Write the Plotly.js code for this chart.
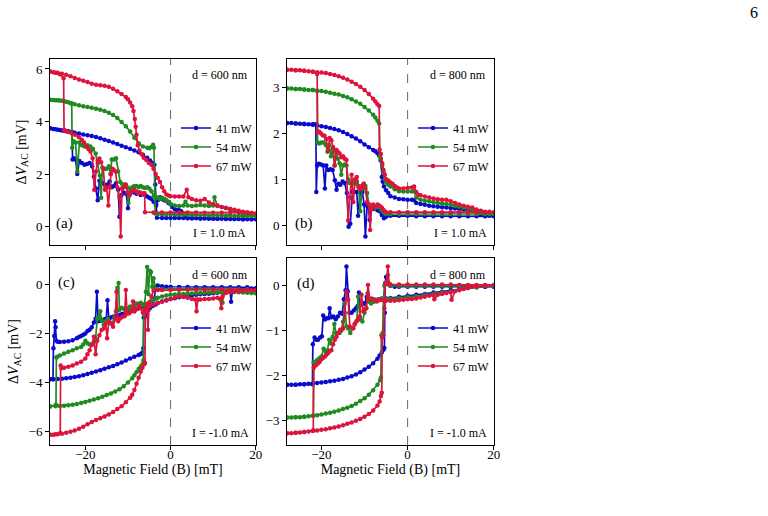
<!DOCTYPE html>
<html>
<head>
<meta charset="utf-8">
<script src="https://cdn.plot.ly/plotly-3.0.1.min.js"></script>
<style>html,body{margin:0;padding:0;background:#fff;}#plot{width:768px;height:516px;}</style>
</head>
<body>
<div id="plot"></div>
<script>
// ---------- DATA : [B (mT), dV_AC (mV)] ----------
const seriesNames = ['41 mW', '54 mW', '67 mW'];
const panelLabels = ['(a)', '(b)', '(c)', '(d)'];
const thickness = ['d = 600 nm', 'd = 800 nm', 'd = 600 nm', 'd = 800 nm'];
const currents = ['I = 1.0 mA', 'I = 1.0 mA', 'I = -1.0 mA', 'I = -1.0 mA'];
const xTicks = [-20, 0, 20];
const yTicksA = [0, 2, 4, 6];
const yTicksB = [0, 1, 2, 3];
const yTicksC = [-6, -4, -2, 0];
const yTicksD = [-3, -2, -1, 0];

// panel (a): d = 600 nm, I = 1.0 mA
const a41 = [[-28.3,3.74],[-27.5,3.72],[-26.5,3.69],[-25.5,3.66],[-24.5,3.63],[-23.5,3.60],[-22.5,3.57],[-21.5,3.54],[-20.5,3.51],[-19.5,3.48],[-18.5,3.45],[-17.5,3.41],[-16.5,3.36],[-15.5,3.31],[-14.5,3.26],[-13.5,3.20],[-12.5,3.14],[-11.5,3.08],[-10.5,3.02],[-9.5,2.96],[-8.5,2.90],[-7.5,2.83],[-6.5,2.74],[-5.5,2.62],[-4.8,2.52],[-4.2,2.42],[-3.8,2.35],[-3.6,1.6],[-3.4,0.8],[-3.2,0.34],[-2,0.33],[-1,0.33],[0,0.33],[1,0.33],[2,0.33],[3,0.33],[4,0.32],[5,0.32],[6,0.32],[7,0.31],[8,0.31],[9,0.31],[10,0.3],[11,0.3],[12,0.3],[13,0.3],[14,0.29],[15,0.29],[16,0.29],[17,0.28],[18,0.28],[19,0.28],[20,0.28],
  [19,0.28],[17,0.28],[15,0.29],[13,0.29],[11,0.3],[9,0.31],[7,0.31],[5,0.32],[4,0.33],[3.5,0.38],[3,0.5],[2.5,0.58],[2,0.62],[1.5,0.63],[1,0.66],[0.5,0.75],[0,0.85],[-0.5,0.9],[-1,0.98],[-1.5,1.0],[-2,1.05],[-2.5,1.12],[-3,1.0],[-3.4,0.85],[-4,0.95],[-4.5,1.05],[-5,1.1],[-5.5,1.15],[-6,1.2],[-6.5,1.25],[-7,1.2],[-7.5,1.3],[-8,1.25],[-8.5,1.3],[-9,1.35],[-9.5,1.25],[-10,0.7],[-10.4,1.25],[-11,1.3],[-11.5,1.2],[-12,0.38],[-12.3,1.4],[-12.8,1.65],[-13.3,1.55],[-13.8,1.5],[-14.3,1.72],[-14.8,1.6],[-15.3,1.55],[-15.8,1.65],[-16.3,1.7],[-16.7,1.75],[-17.1,1.0],[-17.5,1.45],[-18,1.9],[-18.4,2.3],[-19,2.42],[-19.6,2.38],[-20.2,2.35],[-20.8,2.42],[-21.4,2.5],[-21.9,2.0],[-22.3,2.55],[-22.7,2.6],[-23.0,2.55],[-23.1,3.6],[-24,3.63],[-25,3.65],[-26,3.68],[-27,3.71],[-28.3,3.74]];
const a54 = [[-28.3,4.83],[-27.5,4.82],[-26.5,4.81],[-25.5,4.79],[-24.5,4.75],[-23.5,4.70],[-22.5,4.66],[-21.5,4.62],[-20.5,4.58],[-19.5,4.55],[-18.5,4.52],[-17.5,4.49],[-16.5,4.45],[-15.5,4.40],[-14.5,4.33],[-13.5,4.25],[-12.5,4.13],[-11.5,3.98],[-10.5,3.82],[-9.5,3.62],[-8.5,3.38],[-7.5,3.17],[-6.5,3.05],[-5.5,3.0],[-5,2.98],[-4.5,3.03],[-4.1,3.12],[-3.9,3.0],[-3.8,1.2],[-3.6,0.5],[-3,0.47],[-2,0.47],[-1,0.46],[0,0.46],[1,0.46],[2,0.46],[3,0.45],[4,0.45],[5,0.45],[6,0.44],[7,0.44],[8,0.44],[9,0.43],[10,0.43],[11,0.43],[12,0.42],[13,0.42],[14,0.42],[15,0.41],[16,0.41],[17,0.41],[18,0.4],[19,0.4],[20,0.4],
  [19,0.42],[18,0.45],[17,0.5],[16,0.55],[15,0.6],[14,0.65],[13,0.7],[12,0.75],[11,0.78],[10.3,1.12],[10,0.8],[9,0.78],[8,0.8],[7,0.82],[6,0.8],[5,0.78],[4,0.8],[3.5,0.95],[3,0.8],[2,0.78],[1,0.8],[0,0.85],[-0.5,0.95],[-1,1.0],[-1.5,1.05],[-2,1.1],[-2.5,1.05],[-3,1.1],[-3.5,1.12],[-4,1.15],[-4.5,1.35],[-5,1.45],[-5.5,1.5],[-6,1.47],[-6.5,1.5],[-7,1.55],[-7.5,1.5],[-8,1.55],[-8.5,1.55],[-9,1.5],[-9.5,1.45],[-9.9,0.9],[-10.2,1.5],[-10.8,1.6],[-11.3,1.6],[-11.8,1.7],[-12.3,2.1],[-12.8,2.6],[-13.3,2.55],[-13.8,2.55],[-14.1,2.0],[-14.5,2.3],[-15,2.2],[-15.5,2.2],[-16,2.25],[-16.3,1.1],[-16.6,1.95],[-17.1,2.4],[-17.6,2.78],[-18.2,2.95],[-18.8,3.05],[-19.5,3.1],[-20.2,3.05],[-20.8,3.1],[-21.4,3.2],[-21.9,2.1],[-22.3,3.2],[-22.8,3.25],[-23.1,3.0],[-23.2,4.7],[-24,4.73],[-25,4.77],[-26,4.8],[-27,4.81],[-28.3,4.83]];
const a67 = [[-28.3,5.9],[-27.5,5.88],[-26.5,5.86],[-25.5,5.82],[-24.5,5.78],[-23.5,5.72],[-22.5,5.66],[-21.5,5.6],[-20.5,5.55],[-19.5,5.5],[-18.5,5.44],[-17.5,5.4],[-16.5,5.38],[-15.5,5.36],[-14.5,5.32],[-13.5,5.25],[-12.5,5.15],[-11.5,5.05],[-10.5,4.93],[-10,4.85],[-9.5,4.72],[-9,4.58],[-8.7,4.4],[-8.4,4.1],[-8.2,3.8],[-8.0,3.5],[-7.7,3.1],[-7.3,2.9],[-6.8,2.75],[-6.3,2.62],[-5.7,2.54],[-5.1,2.42],[-4.5,2.35],[-4,2.2],[-3.5,2.0],[-3,1.85],[-2.5,1.7],[-2,1.5],[-1.5,1.35],[-1,1.22],[-0.5,1.18],[0,1.16],[1,1.15],[2,1.15],[3,1.15],[3.8,1.4],[4.2,1.12],[5,1.05],[6,1.0],[7,0.98],[8,1.05],[9,0.92],[10,0.85],[11,0.8],[12,0.75],[13,0.72],[14,0.68],[15,0.64],[16,0.6],[17,0.57],[18,0.55],[19,0.52],[20,0.5],
  [19,0.52],[18,0.53],[16,0.53],[14,0.53],[12,0.53],[10,0.53],[8,0.53],[6,0.54],[4,0.54],[2,0.54],[0,0.54],[-2,0.54],[-4,0.54],[-6,0.55],[-6.1,1.27],[-6.6,1.25],[-7.1,1.3],[-7.6,1.27],[-8.1,1.35],[-8.6,1.42],[-9.1,1.35],[-9.6,1.2],[-10.1,1.3],[-10.5,1.6],[-11,1.5],[-11.4,1.45],[-11.7,-0.38],[-12.0,1.14],[-12.5,1.5],[-12.9,2.1],[-13.3,2.15],[-13.6,2.2],[-14.0,2.0],[-14.3,1.5],[-14.6,0.8],[-15.0,1.5],[-15.4,1.4],[-15.8,2.2],[-16.3,2.45],[-16.7,2.59],[-17.1,2.5],[-17.5,2.1],[-17.9,1.4],[-18.3,2.6],[-18.8,2.86],[-19.3,2.95],[-19.8,3.05],[-20.3,3.2],[-20.8,3.3],[-21.5,3.4],[-22.4,3.5],[-23.2,3.55],[-24,3.6],[-24.6,3.65],[-25.0,3.67],[-25.1,5.65],[-26,5.8],[-27,5.86],[-28.3,5.9]];

// panel (b): d = 800 nm, I = 1.0 mA
const b41 = [[-28,2.23],[-27,2.23],[-26,2.22],[-25,2.21],[-24,2.2],[-23,2.2],[-22,2.19],[-21,2.18],[-20,2.16],[-19,2.14],[-18,2.12],[-17,2.1],[-16,2.07],[-15,2.03],[-14,1.99],[-13,1.94],[-12,1.89],[-11,1.83],[-10,1.76],[-9,1.7],[-8,1.64],[-7.5,1.61],[-7,1.57],[-6.6,1.52],[-6.3,1.42],[-6.0,1.05],[-5.8,0.95],[-5.5,0.84],[-5,0.76],[-4.5,0.7],[-4,0.63],[-3,0.6],[-2,0.57],[-1,0.56],[0,0.55],[1,0.55],[1.5,0.54],[2,0.48],[3,0.46],[4,0.44],[5,0.42],[6,0.41],[7,0.4],[8,0.39],[9,0.38],[10,0.37],[11,0.36],[12,0.35],[13,0.34],[14,0.33],[15,0.3],[16,0.27],[17,0.24],[18,0.22],[19,0.2],[20,0.19],
  [18,0.19],[16,0.19],[14,0.19],[12,0.19],[10,0.19],[8,0.19],[6,0.19],[4,0.19],[2,0.19],[0,0.2],[-2,0.2],[-4,0.2],[-5,0.18],[-5.5,0.15],[-6,0.22],[-6.5,0.3],[-7,0.32],[-7.5,0.38],[-8,0.35],[-8.5,0.39],[-8.8,0.11],[-9.1,0.4],[-9.4,0.42],[-9.8,-0.25],[-10.1,0.45],[-10.5,0.72],[-11,0.72],[-11.5,0.2],[-11.8,0.72],[-12.3,0.72],[-12.8,0.73],[-13.3,0.03],[-13.7,-0.04],[-14.1,0.7],[-14.6,0.92],[-15.1,0.95],[-15.6,0.88],[-16.1,0.9],[-16.5,0.77],[-16.9,0.98],[-17.4,1.2],[-17.9,1.22],[-18.4,1.2],[-18.9,1.3],[-19.2,0.8],[-19.6,1.3],[-20.1,1.32],[-20.6,1.34],[-21.0,1.3],[-21.2,0.72],[-21.3,2.2],[-22,2.2],[-24,2.21],[-26,2.22],[-28,2.23]];
const b54 = [[-28,2.98],[-27,2.98],[-26,2.97],[-25,2.97],[-24,2.96],[-23,2.95],[-22,2.95],[-21,2.94],[-20,2.93],[-19,2.91],[-18,2.89],[-17,2.87],[-16,2.85],[-15,2.82],[-14,2.79],[-13,2.75],[-12,2.7],[-11,2.65],[-10,2.58],[-9,2.5],[-8,2.41],[-7.5,2.35],[-7,2.28],[-6.6,2.22],[-6.5,1.5],[-6.2,1.45],[-5.9,1.3],[-5.6,1.15],[-5.3,1.0],[-5,0.93],[-4.5,0.88],[-4,0.84],[-3,0.78],[-2,0.74],[-1,0.73],[0,0.73],[1,0.73],[1.5,0.74],[2,0.6],[3,0.55],[4,0.53],[5,0.52],[6,0.5],[7,0.48],[8,0.47],[9,0.46],[10,0.44],[11,0.42],[12,0.4],[13,0.38],[14,0.37],[15,0.33],[16,0.3],[17,0.27],[18,0.25],[19,0.24],[20,0.24],
  [18,0.24],[16,0.24],[14,0.24],[12,0.24],[10,0.24],[8,0.24],[6,0.24],[4,0.24],[2,0.24],[0,0.24],[-2,0.24],[-4,0.24],[-5,0.24],[-5.5,0.28],[-6,0.32],[-6.5,0.38],[-7,0.4],[-7.5,0.38],[-8,0.42],[-8.5,0.4],[-9,0.45],[-9.4,0.7],[-9.8,0.85],[-10.2,0.9],[-10.6,0.8],[-11,0.3],[-11.4,0.85],[-11.8,0.95],[-12.2,0.9],[-12.6,0.98],[-13,0.9],[-13.4,0.92],[-13.8,1.0],[-14.2,1.3],[-14.6,1.32],[-15,1.3],[-15.4,1.1],[-15.8,1.35],[-16.2,1.45],[-16.6,1.6],[-17,1.3],[-17.4,1.65],[-17.8,1.5],[-18.2,1.75],[-18.6,1.6],[-19,1.75],[-19.5,1.8],[-20,1.8],[-20.5,1.78],[-20.9,1.8],[-21.0,2.93],[-22,2.95],[-24,2.96],[-26,2.97],[-28,2.98]];
const b67 = [[-28,3.39],[-27,3.39],[-26,3.38],[-25,3.38],[-24,3.37],[-23,3.36],[-22,3.35],[-21,3.34],[-20,3.33],[-19,3.32],[-18,3.3],[-17,3.28],[-16,3.25],[-15,3.22],[-14,3.18],[-13,3.13],[-12,3.08],[-11,3.02],[-10,2.95],[-9,2.86],[-8,2.76],[-7.5,2.7],[-7,2.64],[-6.6,2.6],[-6.5,1.65],[-6.2,1.55],[-5.9,1.35],[-5.6,1.2],[-5.3,1.1],[-5,1.0],[-4.5,0.97],[-4,0.93],[-3.5,0.9],[-3,0.85],[-2.5,0.82],[-2,0.8],[-1,0.8],[0,0.81],[1,0.82],[1.5,0.84],[2,0.72],[2.5,0.66],[3,0.65],[4,0.62],[5,0.6],[6,0.58],[7,0.56],[8,0.55],[9,0.55],[10,0.52],[11,0.48],[12,0.45],[13,0.42],[14,0.4],[15,0.38],[16,0.34],[17,0.31],[18,0.29],[19,0.29],[20,0.28],
  [18,0.28],[16,0.28],[14,0.28],[12,0.28],[10,0.28],[8,0.28],[6,0.28],[4,0.28],[2,0.28],[0,0.28],[-2,0.28],[-4,0.28],[-5,0.28],[-5.5,0.32],[-6,0.38],[-6.5,0.42],[-7,0.45],[-7.5,0.4],[-8,0.45],[-8.4,0.35],[-8.7,-0.11],[-9.0,0.45],[-9.4,0.5],[-9.8,0.8],[-10.2,0.9],[-10.6,0.85],[-11,0.78],[-11.4,0.82],[-11.8,1.05],[-12.2,1.0],[-12.6,0.5],[-13,1.1],[-13.4,0.6],[-13.8,0.1],[-14.2,1.42],[-14.6,1.45],[-15,1.5],[-15.4,1.48],[-15.8,1.56],[-16.2,1.6],[-16.5,1.64],[-16.9,1.3],[-17.3,1.7],[-17.7,1.85],[-18.1,1.9],[-18.5,1.62],[-18.9,1.88],[-19.3,1.95],[-19.7,1.96],[-20.1,2.0],[-20.5,2.04],[-20.9,2.03],[-21.0,3.3],[-22,3.35],[-24,3.37],[-26,3.38],[-28,3.39]];

// panel (c): d = 600 nm, I = -1.0 mA
const c41 = [[-28.3,-3.86],[-27.5,-3.86],[-26.5,-3.85],[-25.5,-3.84],[-24.5,-3.82],[-23.5,-3.8],[-22.5,-3.77],[-21.5,-3.74],[-20.5,-3.7],[-19.5,-3.65],[-18.5,-3.6],[-17.5,-3.55],[-16.5,-3.5],[-15.5,-3.44],[-14.5,-3.38],[-13.5,-3.32],[-12.5,-3.25],[-11.5,-3.18],[-10.5,-3.1],[-9.5,-3.02],[-8.5,-2.95],[-7.5,-2.88],[-7,-2.84],[-6.6,-2.78],[-6.4,-2.6],[-6.3,-1.35],[-6.0,-1.32],[-5.6,-1.2],[-5.2,-1.05],[-4.8,-0.95],[-4.2,-0.88],[-3.5,-0.82],[-3,-0.76],[-2,-0.7],[-1,-0.65],[0,-0.6],[1,-0.57],[2,-0.53],[3,-0.5],[4,-0.47],[5,-0.45],[6,-0.43],[7,-0.41],[8,-0.4],[9,-0.38],[10,-0.36],[11,-0.34],[12,-0.32],[13,-0.3],[14,-0.3],[14.2,-0.71],[14.5,-0.28],[15,-0.25],[16,-0.22],[17,-0.2],[18,-0.18],[19,-0.17],[20,-0.16],
  [18,-0.12],[16,-0.12],[14,-0.12],[12,-0.12],[10,-0.12],[8,-0.12],[6,-0.12],[4,-0.11],[2,-0.11],[0,-0.1],[-1,-0.1],[-2,-0.08],[-3,-0.05],[-3.5,-0.1],[-3.8,-0.6],[-4.3,-0.7],[-5,-0.75],[-5.5,-0.8],[-6,-0.85],[-6.5,-0.9],[-7,-0.95],[-7.5,-0.98],[-8,-1.02],[-8.5,-1.05],[-9,-1.08],[-9.5,-1.1],[-10,-1.12],[-10.5,-1.15],[-11,-1.2],[-11.5,-1.22],[-12,-1.25],[-12.5,-1.28],[-13,-1.3],[-13.5,-1.32],[-14,-1.35],[-14.5,-1.38],[-14.8,-0.65],[-15.1,-1.4],[-15.5,-1.42],[-16,-1.45],[-16.5,-1.48],[-17,-1.5],[-17.3,-0.3],[-17.6,-1.4],[-18,-1.55],[-18.5,-1.75],[-19,-1.85],[-19.5,-1.9],[-20,-2.0],[-20.5,-2.05],[-21,-2.1],[-21.5,-2.15],[-22,-2.2],[-23,-2.28],[-24,-2.32],[-25,-2.34],[-26,-2.35],[-26.5,-2.34],[-26.8,-2.3],[-27.0,-1.75],[-27.1,-1.5],[-27.3,-2.1],[-27.5,-2.6],[-27.6,-3.86],[-28.3,-3.86]];
const c54 = [[-28.3,-4.97],[-27,-4.96],[-26,-4.95],[-25,-4.94],[-24,-4.92],[-23,-4.9],[-22,-4.87],[-21,-4.83],[-20,-4.79],[-19,-4.74],[-18,-4.69],[-17,-4.64],[-16,-4.58],[-15,-4.51],[-14,-4.44],[-13,-4.36],[-12,-4.27],[-11,-4.15],[-10,-4.0],[-9,-3.82],[-8.5,-3.7],[-8,-3.58],[-7.5,-3.45],[-7,-3.35],[-6.6,-3.25],[-6.4,-3.1],[-6.3,-1.2],[-6,-1.05],[-5.6,-0.92],[-5.2,-0.82],[-4.8,-0.72],[-4.2,-0.65],[-3.5,-0.58],[-3,-0.55],[-2,-0.5],[-1,-0.46],[0,-0.43],[1,-0.42],[2,-0.4],[3,-0.39],[4,-0.38],[5,-0.37],[6,-0.36],[7,-0.35],[8,-0.34],[9,-0.33],[10,-0.32],[11,-0.32],[12,-0.31],[12.2,-0.75],[12.5,-0.31],[13,-0.3],[14,-0.3],[15,-0.31],[16,-0.32],[17,-0.33],[18,-0.34],[19,-0.35],[20,-0.36],
  [18,-0.2],[16,-0.2],[14,-0.2],[12,-0.2],[10,-0.2],[8,-0.2],[6,-0.2],[4,-0.2],[2,-0.2],[0,-0.2],[-2,-0.2],[-3,-0.2],[-3.5,-0.18],[-4,0.25],[-4.3,-0.1],[-4.6,0.5],[-4.9,0.55],[-5.2,-0.4],[-5.5,0.7],[-5.8,-0.3],[-6.1,-0.8],[-6.6,-0.85],[-7,-0.75],[-7.5,-0.8],[-8,-0.78],[-8.5,-0.85],[-9,-0.95],[-9.5,-0.9],[-10,-1.0],[-10.5,-1.05],[-11,-1.0],[-11.5,-0.95],[-12,-1.05],[-12.2,0.05],[-12.5,-0.15],[-12.8,-1.1],[-13.2,-1.35],[-13.7,-1.6],[-14.2,-1.55],[-14.7,-1.4],[-15.2,-1.5],[-15.7,-1.65],[-16.2,-1.45],[-16.5,-1.1],[-16.8,-1.35],[-17.2,-1.4],[-17.6,-2.2],[-18,-2.35],[-18.5,-2.45],[-19,-2.45],[-19.5,-2.4],[-20,-2.3],[-20.5,-2.45],[-21,-2.55],[-22,-2.6],[-23,-2.68],[-24,-2.75],[-25,-2.82],[-26,-2.9],[-26.6,-2.95],[-26.8,-2.98],[-26.9,-4.9],[-28.3,-4.97]];
const c67 = [[-28.3,-6.12],[-27.5,-6.12],[-26.5,-6.1],[-25.5,-6.08],[-24.5,-6.04],[-23.5,-6.0],[-22.5,-5.95],[-21.5,-5.88],[-20.5,-5.8],[-19.5,-5.7],[-18.5,-5.6],[-17.5,-5.52],[-16.5,-5.45],[-15.5,-5.38],[-14.5,-5.3],[-13.5,-5.2],[-12.5,-5.08],[-11.5,-4.96],[-10.5,-4.8],[-9.5,-4.62],[-9,-4.5],[-8.5,-4.3],[-8,-4.05],[-7.5,-3.8],[-7,-3.55],[-6.6,-3.4],[-6.2,-3.25],[-6.0,-3.2],[-5.9,-1.05],[-5.6,-0.98],[-5.2,-0.92],[-4.8,-0.88],[-4,-0.82],[-3,-0.75],[-2,-0.7],[-1,-0.66],[0,-0.6],[1,-0.55],[2,-0.5],[3,-0.52],[4,-0.55],[5,-0.6],[5.8,-0.62],[6.1,-1.1],[6.4,-0.62],[7,-0.62],[8,-0.6],[9,-0.6],[10,-0.58],[11,-0.55],[11.6,-0.6],[11.9,-0.98],[12.2,-0.5],[13,-0.35],[14,-0.32],[15,-0.3],[16,-0.28],[17,-0.27],[18,-0.25],[19,-0.24],[20,-0.23],
  [18,-0.22],[16,-0.22],[14,-0.22],[12,-0.22],[10,-0.22],[8,-0.22],[6,-0.22],[4,-0.22],[2,-0.22],[0,-0.22],[-2,-0.23],[-3,-0.23],[-4,-0.25],[-4.5,-0.5],[-5,-0.75],[-5.3,-1.85],[-5.5,-0.8],[-6,-1.1],[-6.5,-1.15],[-7,-0.98],[-7.5,-0.85],[-8,-1.0],[-8.5,-1.11],[-8.8,-0.7],[-9.2,-1.1],[-9.7,-1.18],[-10.2,-1.2],[-10.5,-0.23],[-10.8,-1.3],[-11.3,-1.32],[-11.8,-1.39],[-12.3,-1.5],[-12.7,-0.3],[-13.0,-1.4],[-13.5,-1.73],[-14,-1.6],[-14.5,-1.52],[-14.9,-2.2],[-15.2,-1.6],[-15.7,-1.8],[-16.2,-1.86],[-16.7,-2.07],[-17.2,-2.3],[-17.6,-2.85],[-18,-2.13],[-18.5,-2.47],[-19,-2.68],[-19.5,-2.85],[-20,-3.02],[-21,-3.15],[-22,-3.22],[-23,-3.3],[-24,-3.36],[-25,-3.4],[-25.6,-3.42],[-25.8,-3.3],[-25.9,-6.05],[-27,-6.1],[-28.3,-6.12]];

// panel (d): d = 800 nm, I = -1.0 mA
const d41 = [[-28,-2.2],[-27,-2.2],[-26,-2.2],[-25,-2.19],[-24,-2.19],[-23,-2.18],[-22,-2.17],[-21,-2.16],[-20,-2.15],[-19,-2.14],[-18,-2.12],[-17,-2.11],[-16,-2.09],[-15,-2.07],[-14,-2.04],[-13,-2.01],[-12,-1.97],[-11,-1.92],[-10,-1.86],[-9,-1.8],[-8,-1.72],[-7,-1.62],[-6.5,-1.55],[-6,-1.48],[-5.6,-1.42],[-5.4,-1.38],[-5.3,-0.6],[-5.2,0.06],[-5.0,0.2],[-4.8,0.05],[-4,0.0],[-3,-0.02],[-2,-0.02],[0,-0.02],[2,-0.02],[4,-0.02],[6,-0.02],[8,-0.02],[10,-0.02],[12,-0.02],[14,-0.02],[16,-0.02],[18,-0.02],[20,-0.02],
  [18,-0.02],[16,-0.03],[14,-0.05],[12,-0.08],[10,-0.1],[8,-0.13],[6,-0.15],[4,-0.18],[2,-0.2],[0,-0.22],[-2,-0.24],[-4,-0.27],[-5,-0.28],[-6,-0.28],[-6.5,-0.3],[-7,-0.31],[-7.5,-0.32],[-8,-0.33],[-8.5,-0.3],[-9,-0.34],[-9.5,-0.25],[-10,-0.4],[-10.5,-0.38],[-11,-0.42],[-11.3,-0.15],[-11.6,-0.45],[-12,-0.5],[-12.5,-0.55],[-13,-0.6],[-13.5,-0.6],[-13.9,-0.12],[-14.2,0.43],[-14.4,-0.1],[-14.8,-0.3],[-15.2,-0.62],[-15.7,-0.6],[-16.2,-0.68],[-16.7,-0.74],[-17.2,-0.68],[-17.7,-0.7],[-18.1,-0.5],[-18.4,-0.72],[-18.8,-0.72],[-19.2,-0.75],[-19.6,-0.66],[-19.9,-1.12],[-20.3,-1.15],[-20.8,-1.2],[-21.2,-1.2],[-21.6,-1.15],[-22,-1.3],[-22.1,-2.19],[-24,-2.19],[-26,-2.2],[-28,-2.2]];
const d54 = [[-28,-2.93],[-27,-2.93],[-26,-2.92],[-25,-2.92],[-24,-2.91],[-23,-2.9],[-22,-2.89],[-21,-2.88],[-20,-2.86],[-19,-2.84],[-18,-2.82],[-17,-2.8],[-16,-2.77],[-15,-2.74],[-14,-2.71],[-13,-2.67],[-12,-2.62],[-11,-2.56],[-10,-2.5],[-9,-2.42],[-8,-2.32],[-7,-2.2],[-6.4,-2.1],[-6.2,-2.04],[-6.1,-1.1],[-5.8,-1.05],[-5.6,-0.3],[-5.4,0.0],[-5.0,0.05],[-4.6,0.24],[-4.3,0.02],[-4,0.0],[-2,0.0],[0,0.0],[2,0.0],[4,0.0],[6,0.0],[8,0.0],[10,0.0],[12,0.0],[14,0.0],[16,0.0],[18,0.0],[20,0.0],
  [18,-0.01],[16,-0.03],[14,-0.05],[12,-0.08],[10,-0.12],[8,-0.15],[6,-0.18],[4,-0.2],[2,-0.23],[0,-0.25],[-2,-0.27],[-4,-0.28],[-5,-0.29],[-6,-0.3],[-6.5,-0.3],[-7,-0.31],[-7.5,-0.33],[-8,-0.36],[-8.5,-0.39],[-9,-0.35],[-9.3,-0.17],[-9.6,-0.5],[-10,-0.6],[-10.5,-0.79],[-11,-0.75],[-11.5,-0.24],[-11.8,-0.78],[-12.3,-0.85],[-12.8,-0.95],[-13.3,-1.05],[-13.8,-0.95],[-14.2,-0.9],[-14.6,-0.39],[-15,-0.8],[-15.4,-1.0],[-15.8,-1.05],[-16.2,-1.05],[-16.6,-1.05],[-17,-0.85],[-17.4,-1.13],[-17.8,-1.28],[-18.2,-1.2],[-18.6,-1.43],[-19,-1.46],[-19.5,-1.4],[-20,-1.57],[-20.5,-1.61],[-21,-1.65],[-21.5,-1.69],[-21.8,-1.7],[-21.9,-2.89],[-24,-2.91],[-26,-2.92],[-28,-2.93]];
const d67 = [[-28,-3.28],[-27,-3.28],[-26,-3.27],[-25,-3.26],[-24,-3.25],[-23,-3.24],[-22,-3.23],[-21,-3.22],[-20,-3.2],[-19,-3.19],[-18,-3.17],[-17,-3.15],[-16,-3.13],[-15,-3.1],[-14,-3.07],[-13,-3.04],[-12,-3.0],[-11,-2.96],[-10,-2.91],[-9,-2.85],[-8,-2.77],[-7,-2.66],[-6.5,-2.57],[-6.2,-2.45],[-6.0,-2.38],[-5.9,-1.15],[-5.6,-1.1],[-5.4,-0.5],[-5.2,0.05],[-4.9,0.08],[-4.6,0.43],[-4.3,0.05],[-4,0.03],[-2,0.03],[0,0.03],[2,0.03],[4,0.03],[6,0.03],[8,0.03],[10,0.03],[12,0.02],[14,0.02],[16,0.02],[18,0.02],[20,0.02],
  [18,0.0],[16,-0.01],[15,-0.02],[14,-0.04],[13,-0.07],[12,-0.1],[11,-0.12],[10.2,-0.31],[10,-0.14],[9,-0.16],[8,-0.18],[7,-0.2],[6.2,-0.3],[6,-0.21],[5,-0.22],[4,-0.24],[3,-0.26],[2,-0.28],[1,-0.29],[0,-0.3],[-1,-0.31],[-2,-0.32],[-3,-0.33],[-4,-0.33],[-5,-0.33],[-5.7,-0.32],[-6.2,-0.31],[-6.6,-0.32],[-7.2,-0.35],[-7.8,-0.3],[-8.4,-0.28],[-8.8,-0.3],[-9.2,0.02],[-9.6,-0.5],[-10.0,-0.52],[-10.3,-0.57],[-10.7,-0.2],[-11.1,-0.68],[-11.5,-0.74],[-11.9,-0.79],[-12.3,-0.86],[-12.6,-0.94],[-13.0,-0.93],[-13.4,-0.91],[-13.8,-0.31],[-14.2,-0.13],[-14.6,-0.6],[-15,-0.95],[-15.4,-0.97],[-15.7,-0.98],[-16.1,-1.05],[-16.5,-1.13],[-16.9,-1.2],[-17.3,-1.3],[-17.7,-1.43],[-18.1,-1.45],[-18.5,-1.5],[-18.9,-1.53],[-19.2,-1.57],[-19.6,-1.6],[-20,-1.63],[-20.4,-1.69],[-20.8,-1.72],[-21.2,-1.76],[-21.6,-1.79],[-21.8,-1.82],[-21.9,-3.21],[-24,-3.25],[-26,-3.27],[-28,-3.28]];

// ---------- STYLE ----------
const colors = ['#0a0acd', '#1f8a1f', '#dc143c'];
const FONT = "'Liberation Serif', 'Times New Roman', Times, serif";

const panels = [
  {data: [a41, a54, a67], xa: 'x',  ya: 'y',  lg: 'legend'},
  {data: [b41, b54, b67], xa: 'x2', ya: 'y2', lg: 'legend2'},
  {data: [c41, c54, c67], xa: 'x3', ya: 'y3', lg: 'legend3'},
  {data: [d41, d54, d67], xa: 'x4', ya: 'y4', lg: 'legend4'}
];

const traces = [];
panels.forEach(p => {
  p.data.forEach((s, i) => {
    traces.push({
      type: 'scatter', mode: 'lines+markers',
      x: s.map(v => v[0]), y: s.map(v => v[1]),
      name: seriesNames[i], legend: p.lg,
      xaxis: p.xa, yaxis: p.ya,
      line: {color: colors[i], width: 1.7},
      marker: {color: colors[i], size: 4.5},
      hoverinfo: 'skip'
    });
  });
});

const W = 768, H = 516;
const px = v => v / W, py = v => 1 - v / H;

function axis(extra) {
  return Object.assign({
    showline: true, linecolor: '#000', linewidth: 1, mirror: true,
    ticks: 'outside', ticklen: 4, tickwidth: 1, tickcolor: '#000',
    showgrid: false, zeroline: false,
    tickfont: {family: FONT, size: 13, color: '#000'}
  }, extra);
}
const colL = [px(50), px(256)], colR = [px(287), px(494)];
const rowT = [py(245), py(59)], rowB = [py(445), py(258)];

const ytitle = {text: 'Δ<i>V</i><sub>AC</sub> [mV]', font: {family: FONT, size: 14, color: '#000'}, standoff: 6};
const xtitle = {text: 'Magnetic Field (B) [mT]', font: {family: FONT, size: 14, color: '#000'}, standoff: 0};

function legendAt(xp, yp) {
  return {x: px(xp), y: py(yp), xanchor: 'left', yanchor: 'middle',
    bgcolor: 'rgba(0,0,0,0)', borderwidth: 0,
    font: {family: FONT, size: 12, color: '#000'}, itemclick: false, itemdoubleclick: false};
}

const annots = [];
function txt(t, xp, yp, xa, size) {
  annots.push({text: t, x: px(xp), y: py(yp), xref: 'paper', yref: 'paper',
    xanchor: xa, yanchor: 'middle', showarrow: false,
    font: {family: FONT, size: size, color: '#000'}});
}
txt(thickness[0], 250, 75, 'right', 12);
txt(currents[0], 248, 233, 'right', 12);
txt(panelLabels[0], 54, 223, 'left', 15);
txt(thickness[1], 488, 75, 'right', 12);
txt(currents[1], 489, 233, 'right', 12);
txt(panelLabels[1], 293, 223, 'left', 15);
txt(thickness[2], 250, 275, 'right', 12);
txt(currents[2], 251, 433, 'right', 12);
txt(panelLabels[2], 56, 282, 'left', 15);
txt(thickness[3], 488, 275, 'right', 12);
txt(currents[3], 489, 433, 'right', 12);
txt(panelLabels[3], 295, 283, 'left', 15);
txt('6', 754, 12, 'center', 16);

const shapes = [['x','y'],['x2','y2'],['x3','y3'],['x4','y4']].map(([xr, yr]) => ({
  type: 'line', xref: xr, yref: yr + ' domain', x0: 0, x1: 0, y0: 0, y1: 1,
  line: {color: '#555', width: 0.9, dash: 'dash'}, layer: 'below'
}));

const layout = {
  width: W, height: H, margin: {l: 0, r: 0, t: 0, b: 0},
  paper_bgcolor: '#fff', plot_bgcolor: '#fff',
  font: {family: FONT, color: '#000'},
  showlegend: true,
  xaxis:  axis({domain: colL, anchor: 'y',  range: [-28.3, 20.05], tickvals: xTicks, showticklabels: false}),
  yaxis:  axis({domain: rowT, anchor: 'x',  range: [-0.70, 6.38], tickvals: yTicksA, title: ytitle}),
  xaxis2: axis({domain: colR, anchor: 'y2', range: [-28.0, 20.05], tickvals: xTicks, showticklabels: false}),
  yaxis2: axis({domain: rowT, anchor: 'x2', range: [-0.437, 3.627], tickvals: yTicksB}),
  xaxis3: axis({domain: colL, anchor: 'y3', range: [-28.3, 20.05], tickvals: xTicks, title: xtitle, ticklabelstandoff: -7}),
  yaxis3: axis({domain: rowB, anchor: 'x3', range: [-6.54, 1.07], tickvals: yTicksC, title: ytitle}),
  xaxis4: axis({domain: colR, anchor: 'y4', range: [-28.0, 20.05], tickvals: xTicks, title: xtitle, ticklabelstandoff: -7}),
  yaxis4: axis({domain: rowB, anchor: 'x4', range: [-3.54, 0.62], tickvals: yTicksD}),
  legend:  legendAt(176, 147),
  legend2: legendAt(413, 147),
  legend3: legendAt(176, 347),
  legend4: legendAt(413, 347),
  annotations: annots,
  shapes: shapes
};

Plotly.newPlot('plot', traces, layout, {staticPlot: true, displayModeBar: false});
</script>
</body>
</html>
